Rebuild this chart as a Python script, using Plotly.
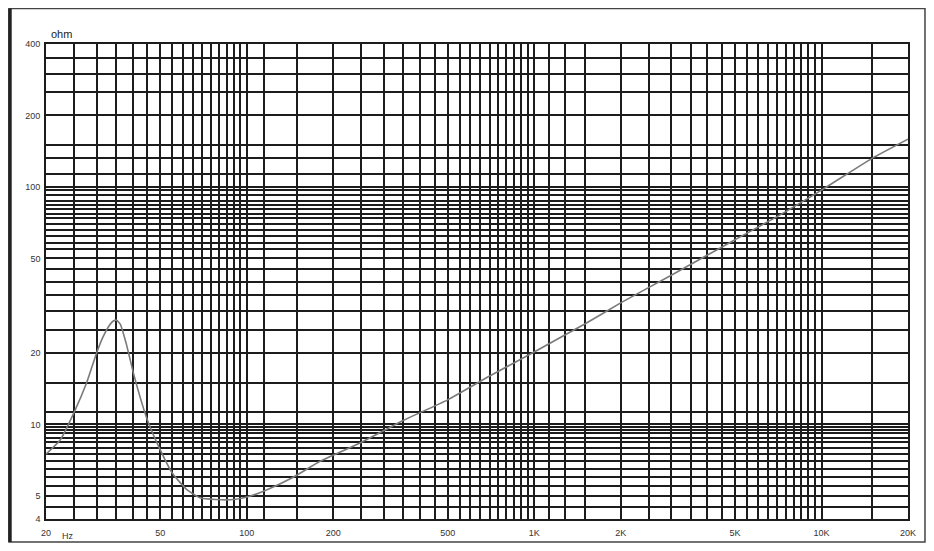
import math

import plotly.graph_objects as go

# impedance curve
freq_hz = [20, 22.4, 25, 27.7, 30, 31.5, 33, 34.2, 35.2, 36.3, 38, 40.6, 45, 50, 55, 62, 69,
           78, 90, 103, 117, 145, 180, 250, 350, 500, 700, 1000, 1500, 2000, 3000, 5000,
           7000, 10000, 15000, 20000]
impedance_ohm = [7.5, 8.6, 11.2, 15.0, 20.0, 23.2, 25.8, 27.2, 27.5, 26.4, 22.0, 15.9, 10.5,
                 7.8, 6.25, 5.3, 4.9, 4.83, 4.83, 5.0, 5.3, 6.0, 7.0, 8.4, 10.4, 12.7, 16.0,
                 20.2, 26.5, 32.5, 42.5, 60, 75, 97, 132, 159]

# grid of the printed chart paper (it is not a regular log grid)
x_grid = ([20 + 5 * i for i in range(17)] + [115, 150]
          + [200 + 50 * i for i in range(17)] + [1130, 1280, 1500]
          + [2000 + 500 * i for i in range(17)] + [15000, 20000])
x_labels = {20: "20", 50: "50", 100: "100", 200: "200", 500: "500",
            1000: "1K", 2000: "2K", 5000: "5K", 10000: "10K", 20000: "20K"}

y_grid = [4, 4.5, 5, 5.5, 6, 6.5, 7, 7.5, 8, 8.4, 8.8, 9.2, 9.5, 9.8, 10, 11.3, 15,
          20, 25, 30, 35, 40, 45, 50, 55, 58, 62, 66, 70, 74, 77, 81, 84, 87, 92.5, 97,
          100, 113, 133, 150, 200, 250, 300, 350, 400]
y_labels = {4: "4", 5: "5", 10: "10", 20: "20", 50: "50", 100: "100", 200: "200", 400: "400"}

GRID = "#1c1c1c"
FONT = dict(family="Liberation Sans, Arial, sans-serif", size=9, color="#333333")

fig = go.Figure()
fig.add_trace(go.Scatter(
    x=freq_hz, y=impedance_ohm, mode="lines",
    line=dict(color="#7a7a7a", width=1.6, shape="spline", smoothing=0.5),
    hoverinfo="x+y", showlegend=False,
))

fig.update_xaxes(
    type="log", range=[math.log10(20), math.log10(20000)],
    tickvals=x_grid, ticktext=[x_labels.get(v, "") for v in x_grid],
    showgrid=True, gridcolor=GRID, gridwidth=1.6,
    showline=True, linecolor=GRID, linewidth=1.6, mirror=True,
    ticks="", tickfont=FONT, zeroline=False, ticklabelstandoff=4, automargin=False,
)
fig.update_yaxes(
    type="log", range=[math.log10(4), math.log10(400)],
    tickvals=y_grid, ticktext=[y_labels.get(v, "") for v in y_grid],
    showgrid=True, gridcolor=GRID, gridwidth=1.6,
    showline=True, linecolor=GRID, linewidth=1.6, mirror=True,
    ticks="", tickfont=FONT, zeroline=False, ticklabelstandoff=2, automargin=False,
)

fig.add_annotation(x=0.004, y=1.005, xref="paper", yref="paper", text="ohm",
                   showarrow=False, xanchor="left", yanchor="bottom",
                   font=dict(family="Liberation Sans, Arial, sans-serif", size=11, color="#222"))
fig.add_annotation(x=math.log10(23.8), y=-0.02, xref="x", yref="paper", text="Hz",
                   showarrow=False, xanchor="center", yanchor="top", font=FONT)

# outer frame of the picture (the page adds 8px of body margin)
fig.add_shape(type="rect", xref="paper", yref="paper",
              x0=-0.0429, x1=1.0197, y0=-0.0484, y1=1.0747,
              line=dict(color="#444444", width=1.5), layer="below")
fig.add_shape(type="line", xref="paper", yref="paper",
              x0=-0.0418, x1=-0.0418, y0=-0.0484, y1=1.0747,
              line=dict(color="#222222", width=3.5))

fig.update_layout(
    width=918, height=535,
    margin=dict(l=38, r=18, t=36, b=24),
    paper_bgcolor="white", plot_bgcolor="white",
    showlegend=False,
)

fig.write_html("out.html")
